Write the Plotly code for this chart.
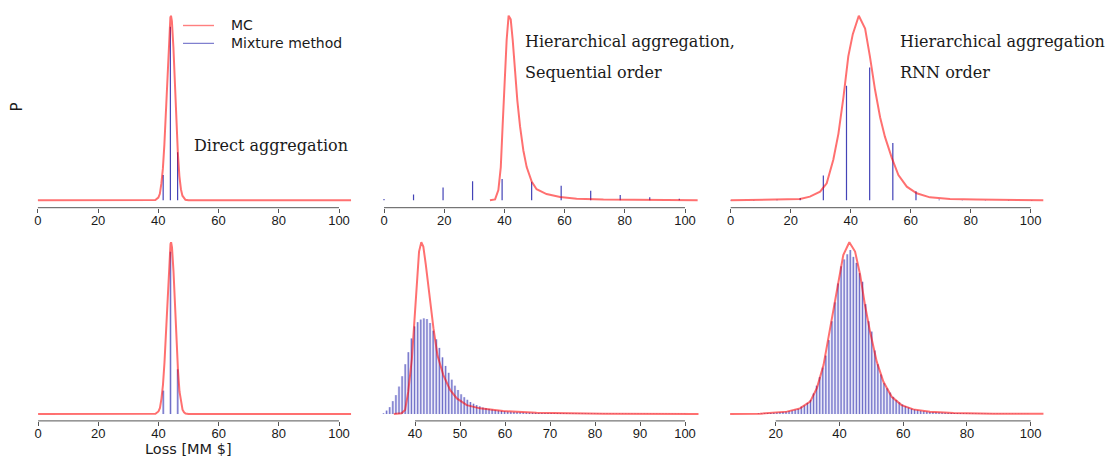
import plotly.graph_objects as go
from plotly.subplots import make_subplots

W, H = 1107, 458

# ---------------- data ----------------
# Direct aggregation (top-left and bottom-left)
mc_direct_x = [0, 38, 39, 40, 40.5, 41, 41.5, 42, 42.5, 43, 43.5, 44, 44.2, 44.5, 45,
               45.5, 46, 46.5, 47, 47.5, 48, 48.5, 49, 50, 104]
mc_direct_y = [0, 0, 0.002, 0.015, 0.035, 0.09, 0.17, 0.3, 0.48, 0.68, 0.88, 0.99, 1.0, 0.97, 0.83,
               0.63, 0.42, 0.25, 0.13, 0.06, 0.025, 0.01, 0.003, 0, 0]
mix_direct_x = [41.6, 44.0, 46.4]
mix_direct_top = [0.137, 0.94, 0.26]
mix_direct_bottom = [0.136, 0.945, 0.26]

# Hierarchical aggregation, sequential order (top-middle)
mc_seq_x = [35.2, 36.9, 38.0, 38.8, 39.4, 40.1, 40.75, 41.4, 42.1, 42.75, 43.5, 44.3, 45.2,
            46.3, 47.4, 49.1, 50.7, 54.0, 58.5, 64.0, 72.9, 84.0, 104.2]
mc_seq_y = [0, 0.005, 0.056, 0.18, 0.40, 0.63, 0.87, 1.0, 0.98, 0.87, 0.71, 0.54, 0.40,
            0.27, 0.18, 0.10, 0.06, 0.034, 0.018, 0.009, 0.004, 0.002, 0.001]
mix_seq_x = [0, 9.81, 19.62, 29.43, 39.24, 49.05, 58.86, 68.67, 78.48, 88.29, 98.1]
mix_seq_y = [0.007, 0.031, 0.069, 0.103, 0.116, 0.101, 0.079, 0.052, 0.029, 0.016, 0.009]

# Hierarchical aggregation, RNN order (top-right)
mc_rnn_x = [0, 15.3, 23.1, 26.4, 29.8, 32.0, 34.2, 35.9, 37.6, 39.2, 40.7, 42.7, 44.8, 46.4,
            48.1, 49.8, 51.4, 53.7, 55.9, 58.7, 62.0, 66.4, 73.1, 82.0, 104.2]
mc_rnn_y = [0, 0.002, 0.007, 0.02, 0.047, 0.092, 0.22, 0.36, 0.56, 0.78, 0.90, 1.0, 0.93, 0.78,
            0.60, 0.45, 0.345, 0.23, 0.137, 0.074, 0.038, 0.016, 0.007, 0.004, 0.001]
mix_rnn_x = [0, 7.72, 15.44, 23.16, 30.88, 38.6, 46.32, 54.04, 61.76, 69.48, 77.2, 84.92, 92.64, 100.36]
mix_rnn_y = [0.002, 0.002, 0.003, 0.013, 0.134, 0.62, 0.72, 0.31, 0.049, 0.005, 0.002, 0.002, 0.002, 0.002]

# Bottom-middle (fine grid, sequential order)
mc_seq2_x = [35.3, 37.0, 37.8, 38.5, 39.3, 39.9, 40.4, 40.9, 41.4, 41.85, 42.4, 43.2, 44.1,
             45.0, 46.3, 47.8, 49.3, 51.5, 54.4, 59.6, 67.0, 81.9, 103.0]
mc_seq2_y = [0, 0.004, 0.023, 0.13, 0.32, 0.56, 0.79, 0.946, 1.0, 0.975, 0.87, 0.69, 0.50,
             0.34, 0.227, 0.14, 0.091, 0.052, 0.033, 0.017, 0.008, 0.002, 0.0]
mix_seq2_start, mix_seq2_step = 33.0, 0.69
mix_seq2_y = [0.004, 0.02, 0.04, 0.075, 0.11, 0.16, 0.22, 0.29, 0.36, 0.44,
              0.51, 0.535, 0.55, 0.557, 0.553, 0.53, 0.485, 0.435, 0.385, 0.33,
              0.28, 0.24, 0.20, 0.165, 0.14, 0.115, 0.098, 0.083, 0.07, 0.06,
              0.052, 0.045, 0.038, 0.034, 0.03, 0.026, 0.023, 0.02, 0.018, 0.016,
              0.014, 0.013, 0.012, 0.011, 0.01, 0.009, 0.008, 0.0075, 0.007, 0.0065,
              0.006, 0.0058, 0.0055, 0.0052, 0.005, 0.0048, 0.0046, 0.0044, 0.0042, 0.004,
              0.0038, 0.0036, 0.0035, 0.0034, 0.0032, 0.003, 0.0029, 0.0028, 0.0027, 0.0026,
              0.0025, 0.0024, 0.0023, 0.0022, 0.0021, 0.002, 0.002, 0.0019, 0.0018, 0.0018,
              0.0017, 0.0016, 0.0016, 0.0015, 0.0015, 0.0014, 0.0014, 0.0013, 0.0013, 0.0012,
              0.0012, 0.0012, 0.0011, 0.0011, 0.001, 0.001, 0.001, 0.001]

# Bottom-right (fine grid, RNN order)
mc_rnn2_x = [5.7, 15.1, 23.5, 27.6, 30.8, 32.9, 35.0, 36.5, 38.1, 39.7, 41.2, 43.1, 44.9,
             46.5, 48.0, 49.6, 51.7, 53.8, 56.4, 59.5, 63.2, 68.4, 75.8, 88.3, 104.0]
mc_rnn2_y = [0, 0.002, 0.014, 0.033, 0.072, 0.15, 0.285, 0.44, 0.615, 0.79, 0.926, 1.0, 0.946,
             0.81, 0.635, 0.48, 0.305, 0.188, 0.10, 0.052, 0.027, 0.014, 0.006, 0.002, 0.001]
mix_rnn2_start, mix_rnn2_step = 14.6, 0.96
mix_rnn2_y = [0.003, 0.003, 0.004, 0.005, 0.006, 0.007, 0.008, 0.01, 0.012, 0.014,
              0.016, 0.02, 0.025, 0.03, 0.043, 0.05, 0.065, 0.082, 0.12, 0.165,
              0.215, 0.27, 0.34, 0.43, 0.54, 0.65, 0.76, 0.86, 0.9, 0.93,
              0.955, 0.915, 0.88, 0.82, 0.77, 0.64, 0.54, 0.48, 0.37, 0.29,
              0.23, 0.18, 0.15, 0.125, 0.1, 0.082, 0.068, 0.056, 0.046, 0.038,
              0.031, 0.026, 0.022, 0.019, 0.016, 0.014, 0.012, 0.011, 0.01, 0.009,
              0.008, 0.0072, 0.0066, 0.006, 0.0055, 0.005, 0.0046, 0.0042, 0.0039, 0.0036,
              0.0033, 0.003, 0.0028, 0.0026, 0.0024, 0.0022, 0.0021, 0.002, 0.0019, 0.0018,
              0.0017, 0.0016, 0.0015, 0.0014, 0.0013, 0.0012, 0.0011, 0.001, 0.001]

ticks_full = [0, 20, 40, 60, 80, 100]
ticks_seq2 = [40, 50, 60, 70, 80, 90, 100]
ticks_rnn2 = [20, 40, 60, 80, 100]

mix_seq2_x = [round(mix_seq2_start + mix_seq2_step * i, 3) for i in range(len(mix_seq2_y))]
mix_rnn2_x = [round(mix_rnn2_start + mix_rnn2_step * i, 3) for i in range(len(mix_rnn2_y))]

# ---------------- styles ----------------
RED = "rgba(255,0,0,0.56)"
BLUE_TOP = "rgba(20,20,165,0.8)"
BLUE_LIGHT = "rgba(40,40,185,0.27)"
BLUE_DARK = "rgba(30,30,165,0.58)"
AXIS_COL = "#555555"
TXT = "#1a1a1a"


def spike_xy(xs, hs):
    X, Y = [], []
    for x, h in zip(xs, hs):
        X += [x, x, None]
        Y += [0, h, None]
    return X, Y


fig = make_subplots(rows=2, cols=3)


def add_spikes(xs, hs, row, col, bottom_style):
    X, Y = spike_xy(xs, hs)
    if bottom_style:
        fig.add_trace(go.Scatter(x=X, y=Y, mode="lines", line=dict(color=BLUE_LIGHT, width=2.4),
                                 showlegend=False, hoverinfo="skip"), row=row, col=col)
        fig.add_trace(go.Scatter(x=X, y=Y, mode="lines", line=dict(color=BLUE_DARK, width=0.9),
                                 showlegend=False, hoverinfo="skip"), row=row, col=col)
    else:
        fig.add_trace(go.Scatter(x=X, y=Y, mode="lines", line=dict(color=BLUE_TOP, width=1.2),
                                 showlegend=False, hoverinfo="skip"), row=row, col=col)


def add_mc(xs, ys, row, col):
    fig.add_trace(go.Scatter(x=xs, y=ys, mode="lines", line=dict(color=RED, width=2),
                             showlegend=False), row=row, col=col)


add_spikes(mix_direct_x, mix_direct_top, 1, 1, False)
add_mc(mc_direct_x, mc_direct_y, 1, 1)
add_spikes(mix_seq_x, mix_seq_y, 1, 2, False)
add_mc(mc_seq_x, mc_seq_y, 1, 2)
add_spikes(mix_rnn_x, mix_rnn_y, 1, 3, False)
add_mc(mc_rnn_x, mc_rnn_y, 1, 3)
add_spikes(mix_direct_x, mix_direct_bottom, 2, 1, True)
add_mc(mc_direct_x, mc_direct_y, 2, 1)
add_spikes(mix_seq2_x, mix_seq2_y, 2, 2, True)
add_mc(mc_seq2_x, mc_seq2_y, 2, 2)
add_spikes(mix_rnn2_x, mix_rnn2_y, 2, 3, True)
add_mc(mc_rnn2_x, mc_rnn2_y, 2, 3)

# ---------------- layout ----------------
col_px = [(20, 366), (371, 706), (711, 1104)]
row_py = [(8.3, 207.7), (235.4, 420.9)]
row_standoff = [-3, -4]
# (value1, pixel1, value2, pixel2) for each panel's x-scale
calib = {1: (0, 37.9, 100, 339.0), 2: (0, 384.0, 100, 685.0), 3: (0, 730.7, 100, 1030.7),
         4: (0, 38.1, 100, 339.0), 5: (40, 415.0, 100, 685.0), 6: (20, 775.7, 100, 1030.7)}
tickset = {1: ticks_full, 2: ticks_full, 3: ticks_full, 4: ticks_full, 5: ticks_seq2, 6: ticks_rnn2}

shapes = []
for k in range(1, 7):
    r, c = (k - 1) // 3, (k - 1) % 3
    a, b = col_px[c]
    v1, p1, v2, p2 = calib[k]
    s = (p2 - p1) / (v2 - v1)
    xr = [v1 + (a - p1) / s, v1 + (b - p1) / s]
    top, bot = row_py[r]
    sfx = "" if k == 1 else str(k)
    tv = tickset[k]
    fig.layout["xaxis" + sfx].update(
        domain=[a / W, b / W], range=xr, showgrid=False, zeroline=False, showline=False,
        ticks="outside", ticklen=4, tickwidth=1, tickcolor=AXIS_COL,
        tickvals=tv, ticktext=[str(t) for t in tv], ticklabelstandoff=row_standoff[r],
        tickfont=dict(family="Liberation Sans", size=13, color=TXT))
    fig.layout["yaxis" + sfx].update(
        domain=[1 - bot / H, 1 - top / H], range=[-0.04, 1.04], visible=False)
    shapes.append(dict(type="line", xref="x" + sfx, yref="y" + sfx + " domain",
                       x0=min(tv), x1=max(tv), y0=0, y1=0,
                       line=dict(color=AXIS_COL, width=1)))

# legend (drawn manually)
shapes.append(dict(type="line", xref="paper", yref="paper", x0=183 / W, x1=214 / W,
                   y0=1 - 25.5 / H, y1=1 - 25.5 / H, line=dict(color="rgba(255,0,0,0.5)", width=1.4)))
shapes.append(dict(type="line", xref="paper", yref="paper", x0=183 / W, x1=214 / W,
                   y0=1 - 43.3 / H, y1=1 - 43.3 / H, line=dict(color="rgba(30,30,170,0.7)", width=1)))


def ann(text, px, py, size, family, xanchor="left", angle=0):
    return dict(text=text, x=px / W, y=1 - py / H, xref="paper", yref="paper",
                xanchor=xanchor, yanchor="middle", showarrow=False, textangle=angle,
                font=dict(family=family, size=size, color=TXT))


annotations = [
    ann("MC", 228.5, 25, 14, "DejaVu Sans"),
    ann("Mixture method", 228.5, 43, 14, "DejaVu Sans"),
    ann("Direct aggregation", 191.5, 146, 16, "DejaVu Serif"),
    ann("Hierarchical aggregation,", 522.5, 42, 16, "DejaVu Serif"),
    ann("Sequential order", 522.5, 72, 16, "DejaVu Serif"),
    ann("Hierarchical aggregation", 897.5, 42, 16, "DejaVu Serif"),
    ann("RNN order", 897.5, 72, 16, "DejaVu Serif"),
    ann("P", 16.5, 107, 15, "DejaVu Sans", xanchor="center", angle=-90),
    ann("Loss [MM $]", 188.5, 449.3, 14.5, "DejaVu Sans", xanchor="center"),
]

fig.update_layout(
    width=W, height=H, margin=dict(l=0, r=0, t=0, b=0),
    paper_bgcolor="white", plot_bgcolor="rgba(0,0,0,0)",
    showlegend=False, shapes=shapes, annotations=annotations,
)

fig.write_html(
    "out.html",
    config={"displayModeBar": False},
    post_script="document.body.style.margin='0px';document.body.style.overflow='hidden';",
)
